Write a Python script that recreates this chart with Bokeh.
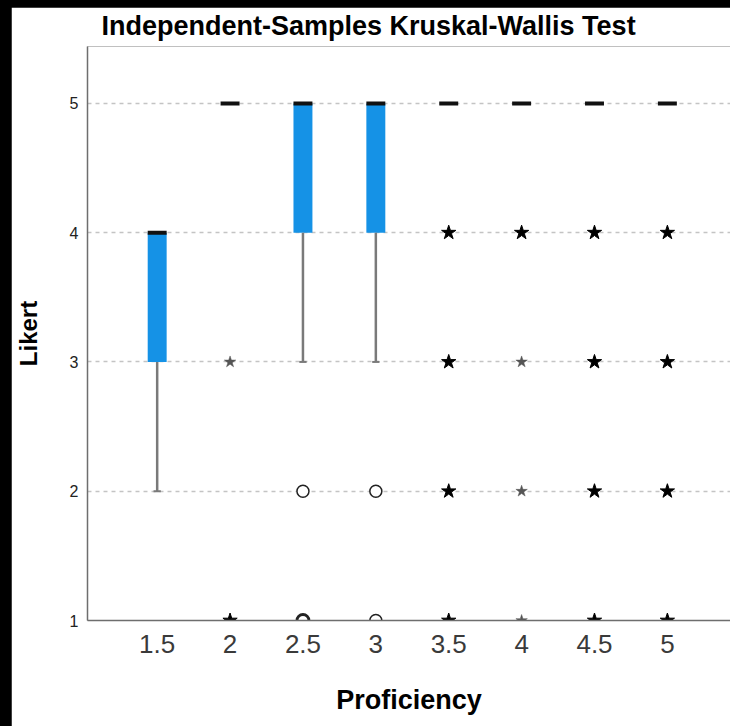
from bokeh.plotting import figure
from bokeh.models import FixedTicker, Range1d, GlobalInlineStyleSheet
from bokeh.embed import file_html
from bokeh.resources import INLINE

# ---- data ----
title_text = "Independent-Samples Kruskal-Wallis Test"
groups = [1.5, 2.0, 2.5, 3.0, 3.5, 4.0, 4.5, 5.0]
group_labels = ["1.5", "2", "2.5", "3", "3.5", "4", "4.5", "5"]
q1 = [3, 5, 4, 4, 5, 5, 5, 5]
q3 = [4, 5, 5, 5, 5, 5, 5, 5]
medians = [4, 5, 5, 5, 5, 5, 5, 5]
lower_whisker = [2, 5, 3, 3, 5, 5, 5, 5]

# outliers (circles) and extreme values (stars); weight 2 = heavier mark
circle_x = [2.5, 2.5, 3.0, 3.0]
circle_y = [2, 1, 2, 1]
circle_weight = [1, 2, 1, 1]

star_x = [2.0, 2.0,
          3.5, 3.5, 3.5, 3.5,
          4.0, 4.0, 4.0, 4.0,
          4.5, 4.5, 4.5, 4.5,
          5.0, 5.0, 5.0, 5.0]
star_y = [3, 1,
          4, 3, 2, 1,
          4, 3, 2, 1,
          4, 3, 2, 1,
          4, 3, 2, 1]
star_weight = [1, 2,
               2, 2, 2, 2,
               2, 1, 1, 1,
               2, 2, 2, 2,
               2, 2, 2, 2]

y_ticks = [1, 2, 3, 4, 5]

# ---- figure ----
p = figure(width=719, height=719, output_backend="svg", toolbar_location=None,
           x_range=Range1d(1.022, 5.433), y_range=Range1d(1.0, 5.44),
           min_border_left=75, min_border_right=0, min_border_top=38, min_border_bottom=106,
           title=title_text)
p.stylesheets = [GlobalInlineStyleSheet(
    css="html, body { background: #000000; } body { margin: 7px 0 0 11px; }")]
p.background_fill_color = "white"
p.border_fill_color = "white"
p.outline_line_color = None

p.title.text_font = "Liberation Sans"
p.title.text_font_style = "bold"
p.title.text_font_size = "27px"
p.title.text_color = "black"
p.title.align = "left"
p.title.offset = 14
p.title.standoff = 7
p.title.vertical_align = "top"

# grid
p.xgrid.grid_line_color = None
p.ygrid.ticker = FixedTicker(ticks=y_ticks)
p.ygrid.grid_line_color = "#c4c4c4"
p.ygrid.grid_line_dash = "4 4"
p.ygrid.grid_line_width = 1.5

# axes
p.xaxis.ticker = FixedTicker(ticks=groups)
p.xaxis.major_label_overrides = {g: l for g, l in zip(groups, group_labels)}
p.yaxis.ticker = FixedTicker(ticks=y_ticks)
for ax in (p.xaxis, p.yaxis):
    ax.axis_line_color = "#6e6e6e"
    ax.axis_line_width = 1.5
    ax.major_tick_line_color = None
    ax.minor_tick_line_color = None
    ax.major_label_text_font = "Liberation Sans"
    ax.axis_label_text_font = "Liberation Sans"
    ax.axis_label_text_font_style = "bold"
    ax.axis_label_text_color = "black"

p.xaxis.major_label_text_font_size = "26px"
p.xaxis.major_label_text_color = "#3a3a3a"
p.xaxis.major_label_standoff = 8
p.xaxis.axis_label = "Proficiency"
p.xaxis.axis_label_text_font_size = "27px"
p.xaxis.axis_label_standoff = 29

p.yaxis.major_label_text_font_size = "16px"
p.yaxis.major_label_text_color = "#222222"
p.yaxis.major_label_standoff = 3
p.yaxis.axis_label = "Likert"
p.yaxis.axis_label_text_font_size = "24px"
p.yaxis.axis_label_standoff = 25

# ---- boxes ----
box_w = 0.13
p.vbar(x=groups, width=box_w, bottom=q1, top=q3, fill_color="#1592e6", line_color=None)

# whiskers
p.segment(x0=groups, y0=lower_whisker, x1=groups, y1=q1, line_color="#7a7a7a", line_width=2.5)
cap_x = [g for g, lw, b in zip(groups, lower_whisker, q1) if lw < b]
cap_y = [lw for lw, b in zip(lower_whisker, q1) if lw < b]
cap_w = 0.025
p.segment(x0=[x - cap_w for x in cap_x], y0=cap_y, x1=[x + cap_w for x in cap_x], y1=cap_y,
          line_color="#7a7a7a", line_width=2)

# medians
p.segment(x0=[g - box_w / 2 for g in groups], y0=medians,
          x1=[g + box_w / 2 for g in groups], y1=medians,
          line_color="#111111", line_width=4, line_cap="butt")

# circles (outliers)
p.scatter(x=circle_x, y=circle_y, marker="circle", size=12, fill_color="white",
          line_color="#222222",
          line_width=[1.5 if w == 1 else 2.8 for w in circle_weight])

# stars (extremes)
bx = [x for x, w in zip(star_x, star_weight) if w == 2]
by = [y for y, w in zip(star_y, star_weight) if w == 2]
lx = [x for x, w in zip(star_x, star_weight) if w == 1]
ly = [y for y, w in zip(star_y, star_weight) if w == 1]
p.scatter(x=bx, y=by, marker="star", size=15, fill_color="black", line_color="black", line_width=1)
p.scatter(x=lx, y=ly, marker="star", size=12, fill_color="#555555", line_color="#555555", line_width=0.5)

open("out.html", "w").write(file_html(p, INLINE))
